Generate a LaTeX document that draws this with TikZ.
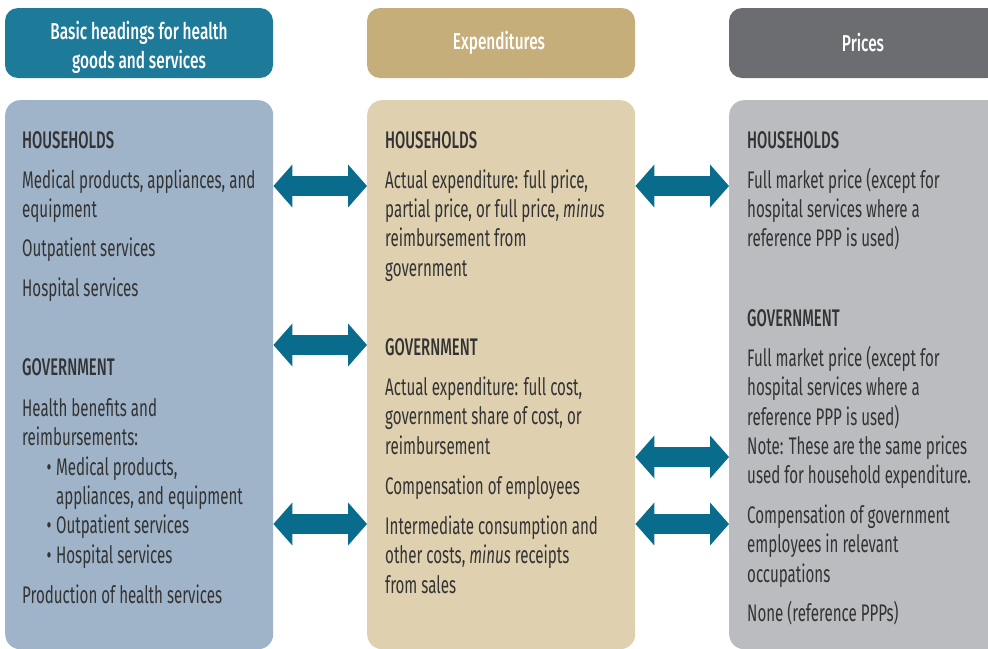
\documentclass[tikz,border=0pt]{standalone}
\usepackage{fontspec}
\usetikzlibrary{arrows.meta}
\newfontfamily\cond[FakeStretch=0.63]{Fira Sans}
\newfontfamily\condb[FakeStretch=0.62]{Fira Sans Medium}
\newfontfamily\condh[FakeStretch=0.67]{Fira Sans Medium}
\definecolor{hdA}{HTML}{1E7A99}
\definecolor{bdA}{HTML}{9FB4C9}
\definecolor{hdB}{HTML}{C6AE7B}
\definecolor{bdB}{HTML}{DFD0B0}
\definecolor{hdC}{HTML}{6C6D70}
\definecolor{bdC}{HTML}{BBBCC0}
\definecolor{arr}{HTML}{0A6C8C}
\definecolor{txtc}{HTML}{333333}
\newcommand{\bul}{\textbullet\hspace{4.5pt}}
\newcommand{\nobul}{\phantom{\textbullet}\hspace{4.5pt}}
\tikzset{
  headbox/.style={rounded corners=13pt, draw=none},
  bodybox/.style={rounded corners=15pt, draw=none},
  headtxt/.style={text=white, font=\condh\fontsize{23}{29}\selectfont, align=center, inner sep=0pt},
  txt/.style={anchor=base west, align=left, inner sep=0pt, text=txtc, font=\cond\fontsize{24}{29.3}\selectfont},
  sub/.style={txt, font=\condb\fontsize{24}{29.3}\selectfont},
  bigarrow/.style={draw=arr, line width=20pt, {Triangle[length=19pt,width=42pt]}-{Triangle[length=19pt,width=42pt]}}
}
\begin{document}
\begin{tikzpicture}[x=1pt,y=-1pt]
\useasboundingbox (0,0) rectangle (988,648);
\clip (0,0) rectangle (988,648);
% header boxes
\filldraw[headbox, fill=hdA] (5,8) rectangle (273,78);
\node[headtxt] (hA) at (139,47) {Basic headings for health\\goods and services};
\filldraw[headbox, fill=hdB] (367,8) rectangle (635,78);
\node[headtxt] (hB) at (499,43) {Expenditures};
\filldraw[headbox, fill=hdC] (729,8) rectangle (1000,78);
\node[headtxt] (hC) at (863,43) {Prices};
% body boxes
\node[bodybox, fill=bdA, anchor=north west, minimum width=268pt, minimum height=549pt, inner sep=0pt] (lb) at (5,100) {};
\node[bodybox, fill=bdB, anchor=north west, minimum width=268pt, minimum height=549pt, inner sep=0pt] (mb) at (367,100) {};
\node[bodybox, fill=bdC, anchor=north west, minimum width=280pt, minimum height=549pt, inner sep=0pt] (rb) at (729,100) {};
\begin{scope}[shift={(0,1.5)}]
% left column (anchor = baseline of last line)
\node[sub] (l1) at (22,146.7) {HOUSEHOLDS};
\node[txt] (l2) at (22,216) {Medical products, appliances, and\\equipment};
\node[txt] (l3) at (22,255) {Outpatient services};
\node[txt] (l4) at (22,295) {Hospital services};
\node[sub] (l5) at (22,374) {GOVERNMENT};
\node[txt] (l6) at (22,444.3) {Health benefits and\\reimbursements:};
\node[txt] (l7) at (46.5,561.5) {\bul Medical products,\\\nobul appliances, and equipment\\\bul Outpatient services\\\bul Hospital services};
\node[txt] (l8) at (22,602) {Production of health services};
% middle column
\node[sub] (m1) at (385,146.7) {HOUSEHOLDS};
\node[txt] (m2) at (385,274.6) {Actual expenditure: full price,\\partial price, or full price, \emph{minus}\\reimbursement from\\government};
\node[sub] (m3) at (385,354) {GOVERNMENT};
\node[txt] (m4) at (385,452.6) {Actual expenditure: full cost,\\government share of cost, or\\reimbursement};
\node[txt] (m5) at (385,493) {Compensation of employees};
\node[txt] (m6) at (385,591.6) {Intermediate consumption and\\other costs, \emph{minus} receipts\\from sales};
% right column
\node[sub] (r1) at (747,146.7) {HOUSEHOLDS};
\node[txt] (r2) at (747,245.3) {Full market price (except for\\hospital services where a\\reference PPP is used)};
\node[sub] (r3) at (747,325) {GOVERNMENT};
\node[txt] (r4) at (747,482.2) {Full market price (except for\\hospital services where a\\reference PPP is used)\\Note: These are the same prices\\used for household expenditure.};
\node[txt] (r5) at (747,580.6) {Compensation of government\\employees in relevant\\occupations};
\node[txt] (r6) at (747,620) {None (reference PPPs)};
\end{scope}
% arrows
\draw[bigarrow] (lb.north east |- 0,186) -- (mb.north west |- 0,186);
\draw[bigarrow] (lb.north east |- 0,345) -- (mb.north west |- 0,345);
\draw[bigarrow] (lb.north east |- 0,524) -- (mb.north west |- 0,524);
\draw[bigarrow] (mb.north east |- 0,186) -- (rb.north west |- 0,186);
\draw[bigarrow] (mb.north east |- 0,457) -- (rb.north west |- 0,457);
\draw[bigarrow] (mb.north east |- 0,524) -- (rb.north west |- 0,524);
\end{tikzpicture}
\end{document}
